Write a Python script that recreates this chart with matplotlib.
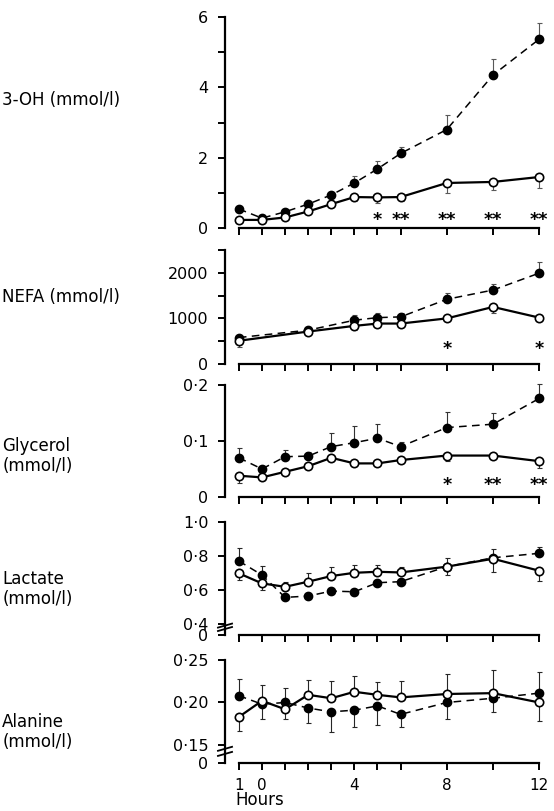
import numpy as np
import matplotlib.pyplot as plt
import matplotlib.transforms as mtransforms

plt.rcParams["font.family"] = "DejaVu Sans"
plt.rcParams["font.size"] = 11.5

# ----------------------------------------------------------------------
# data
# ----------------------------------------------------------------------
hours = [-1, 0, 1, 2, 3, 4, 5, 6, 8, 10, 12]
nefa_hours = [-1, 2, 4, 5, 6, 8, 10, 12]

# signed error bars: + drawn upwards, - drawn downwards
oh_fill = [0.54, 0.28, 0.46, 0.68, 0.94, 1.28, 1.68, 2.12, 2.80, 4.35, 5.37]
oh_open = [0.23, 0.23, 0.30, 0.47, 0.68, 0.88, 0.87, 0.88, 1.28, 1.31, 1.45]
oh_fill_err = [0.05, 0.05, 0.05, 0.06, 0.08, 0.20, 0.22, 0.19, 0.41, 0.45, 0.46]
oh_open_err = [-0.04, -0.04, -0.04, -0.05, -0.06, -0.10, -0.16, -0.10, -0.29, -0.23, -0.31]
oh_star_hours = [5, 6, 8, 10, 12]
oh_stars = ["*", "**", "**", "**", "**"]

nefa_fill = [580, 742, 960, 1017, 1033, 1419, 1622, 1993]
nefa_open = [510, 712, 836, 887, 887, 1000, 1251, 1017]
nefa_fill_err = [40, 40, 110, 100, 80, 140, 140, 250]
nefa_open_err = [-130, -50, -80, -70, -50, -50, -124, -50]
nefa_star_hours = [8, 12]
nefa_stars = ["*", "*"]

gly_fill = [0.070, 0.050, 0.072, 0.073, 0.090, 0.097, 0.105, 0.090, 0.124, 0.130, 0.176]
gly_open = [0.038, 0.035, 0.045, 0.055, 0.070, 0.060, 0.060, 0.066, 0.074, 0.074, 0.064]
gly_fill_err = [0.017, 0.005, 0.012, 0.008, 0.024, 0.030, 0.025, 0.009, 0.028, 0.020, 0.026]
gly_open_err = [-0.013, -0.005, -0.005, -0.004, -0.005, -0.005, -0.004, -0.004, -0.010, -0.005, -0.013]
gly_star_hours = [8, 10, 12]
gly_stars = ["*", "**", "**"]

lac_fill = [0.770, 0.688, 0.557, 0.565, 0.594, 0.590, 0.643, 0.649, 0.737, 0.789, 0.815]
lac_open = [0.698, 0.639, 0.619, 0.649, 0.682, 0.701, 0.707, 0.703, 0.737, 0.783, 0.713]
lac_fill_err = [0.074, 0.053, -0.010, -0.010, -0.010, -0.010, 0.015, 0.015, -0.050, 0.050, 0.035]
lac_open_err = [-0.040, -0.040, 0.030, 0.050, 0.050, 0.045, 0.040, 0.030, 0.050, -0.080, -0.060]

ala_fill = [0.208, 0.198, 0.200, 0.1935, 0.189, 0.191, 0.196, 0.186, 0.200, 0.205, 0.211]
ala_open = [0.183, 0.202, 0.192, 0.209, 0.205, 0.2126, 0.209, 0.206, 0.210, 0.211, 0.200]
ala_fill_err = [0.020, -0.017, 0.017, -0.018, -0.024, -0.020, -0.023, -0.015, -0.020, -0.016, 0.025]
ala_open_err = [-0.017, 0.018, -0.012, 0.018, 0.020, 0.019, 0.015, 0.019, 0.024, 0.027, -0.022]

x_ticklabels = ["1", "0", "", "", "", "4", "", "", "8", "", "12"]

# ----------------------------------------------------------------------
# panel settings (pixel top/bottom of each axes in the 554x811 figure)
# ----------------------------------------------------------------------
panels = [
    dict(label="3-OH (mmol/l)", x=hours, fill=oh_fill, opn=oh_open,
         fe=oh_fill_err, oe=oh_open_err, top=17, bot=228, ylim=(0, 6),
         ticks=[0, 1, 2, 3, 4, 5, 6], ticklabels=["0", "", "2", "", "4", "", "6"],
         stars=(oh_star_hours, oh_stars, 0.22), brk=None, elc="0.35", ly=100),
    dict(label="NEFA (mmol/l)", x=nefa_hours, fill=nefa_fill, opn=nefa_open,
         fe=nefa_fill_err, oe=nefa_open_err, top=250, bot=364, ylim=(0, 2500),
         ticks=[0, 500, 1000, 1500, 2000, 2500],
         ticklabels=["0", "", "1000", "", "2000", ""],
         stars=(nefa_star_hours, nefa_stars, 330), brk=None, elc="0.3", ly=297),
    dict(label="Glycerol\n(mmol/l)", x=hours, fill=gly_fill, opn=gly_open,
         fe=gly_fill_err, oe=gly_open_err, top=385, bot=497, ylim=(0, 0.2),
         ticks=[0, 0.1, 0.2], ticklabels=["0", "0·1", "0·2"],
         stars=(gly_star_hours, gly_stars, 0.022), brk=None, elc="0.2", ly=456),
    dict(label="Lactate\n(mmol/l)", x=hours, fill=lac_fill, opn=lac_open,
         fe=lac_fill_err, oe=lac_open_err, top=521.7, bot=635, ylim=(0.337, 1.0),
         ticks=[0.337, 0.4, 0.6, 0.8, 1.0],
         ticklabels=["0", "0·4", "0·6", "0·8", "1·0"],
         stars=None, brk=(0.392, 0.372), elc="0.15", ly=589),
    dict(label="Alanine\n(mmol/l)", x=hours, fill=ala_fill, opn=ala_open,
         fe=ala_fill_err, oe=ala_open_err, top=660, bot=763, ylim=(0.1288, 0.25),
         ticks=[0.1288, 0.15, 0.20, 0.25],
         ticklabels=["0", "0·15", "0·20", "0·25"],
         stars=None, brk=(0.1455, 0.1395), elc="0.15", ly=732),
]

W, H = 554, 811
fig = plt.figure(figsize=(W / 100, H / 100), dpi=100)

ax_left, ax_right = 225, 545
xlim = (-1.6, 12.25)


def split_err(err):
    err = np.asarray(err, dtype=float)
    return np.vstack([np.clip(-err, 0, None), np.clip(err, 0, None)])


for i, p in enumerate(panels):
    ax = fig.add_axes([ax_left / W, 1 - p["bot"] / H,
                       (ax_right - ax_left) / W, (p["bot"] - p["top"]) / H])
    ax.set_xlim(*xlim)
    ax.set_ylim(*p["ylim"])
    for s in ["top", "right"]:
        ax.spines[s].set_visible(False)
    ax.spines["left"].set_bounds(p["ylim"][0], p["ylim"][1])
    ax.spines["bottom"].set_bounds(-1, 12)
    ax.spines["left"].set_linewidth(1.6)
    ax.spines["bottom"].set_linewidth(1.6)

    ax.set_yticks(p["ticks"])
    ax.set_yticklabels(p["ticklabels"])
    ax.set_xticks(hours)
    if i == len(panels) - 1:
        ax.set_xticklabels(x_ticklabels, fontsize=11)
    else:
        ax.set_xticklabels([])
    ax.tick_params(axis="both", direction="out", length=5, width=1.4)
    ax.tick_params(axis="y", pad=7)
    ax.tick_params(axis="x", pad=6)

    x = p["x"]
    ax.errorbar(x, p["fill"], yerr=split_err(p["fe"]), fmt="none",
                ecolor=p["elc"], elinewidth=0.8, capsize=1.8, capthick=0.8,
                zorder=2, clip_on=False)
    ax.errorbar(x, p["opn"], yerr=split_err(p["oe"]), fmt="none",
                ecolor=p["elc"], elinewidth=0.8, capsize=1.8, capthick=0.8,
                zorder=2, clip_on=False)
    ax.plot(x, p["fill"], color="black", lw=1.1, dashes=(5, 3.5),
            marker="o", ms=6, mfc="black", mec="black", zorder=3, clip_on=False)
    ax.plot(x, p["opn"], color="black", lw=1.6, marker="o", ms=6,
            mfc="white", mec="black", mew=1.2, zorder=4, clip_on=False)

    if p["stars"] is not None:
        sx, sl, sy = p["stars"]
        for xx, lab in zip(sx, sl):
            ax.text(xx, sy, lab, ha="center", va="center", fontsize=12.5,
                    fontweight="bold", clip_on=False)

    if p["brk"] is not None:
        trans = mtransforms.blended_transform_factory(ax.transAxes, ax.transData)
        span = p["ylim"][1] - p["ylim"][0]
        dy = span * 2.0 / (p["bot"] - p["top"])
        for yb in p["brk"]:
            ax.plot([-0.022, 0.022], [yb - dy, yb + dy], color="black", lw=1.3,
                    transform=trans, clip_on=False)

    # row label
    fig.text(0.004, 1 - p["ly"] / H, p["label"], ha="left", va="center",
             fontsize=12, linespacing=1.1)

fig.text(235 / W, 1 - 800 / H, "Hours", ha="left", va="center", fontsize=12)

fig.savefig("out.png", dpi=100)
